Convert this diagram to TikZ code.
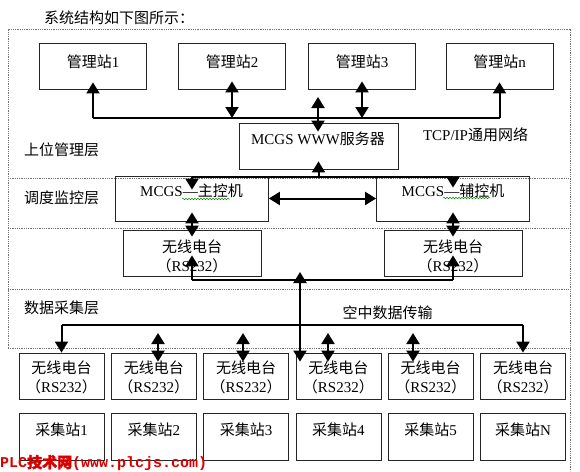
\documentclass[tikz,border=0pt]{standalone}
\usepackage{fontspec}
\setmainfont{Liberation Serif}
\newfontfamily\cjk{Noto Sans CJK SC}
\newfontfamily\cjkwm[FakeBold=2]{Noto Sans CJK SC}
\newfontfamily\wmmono{Liberation Mono}
\usetikzlibrary{arrows.meta,calc,decorations.pathmorphing}
\begin{document}
\begin{tikzpicture}[x=1pt,y=-1pt,
  box/.style={draw=black!85, line width=0.8pt, inner sep=0pt},
  txt/.style={font=\fontsize{15}{19}\selectfont, inner sep=0pt, align=center},
  lay/.style={draw=black!55, line width=0.9pt, dash pattern=on 0.9pt off 0.9pt},
  wire/.style={line width=2pt},
  arr/.style={wire,-{Triangle[length=11pt,width=13pt]}},
  darr/.style={wire,{Triangle[length=11pt,width=13pt]}-{Triangle[length=11pt,width=13pt]}},
  spell/.style={draw=green!55!black, line width=0.5pt, decorate, decoration={snake, amplitude=0.7pt, segment length=3pt}}]
\useasboundingbox (0,0) rectangle (580,471);

% layer frames
\draw[lay] (8,348) -- (8,29) -- (570,29) -- (570,471);
\foreach \yy in {178,228,289,348} \draw[lay] (8,\yy) -- (570,\yy);

\node[txt,anchor=west] (title) at (44,18) {\cjk 系统结构如下图所示：};

% layer labels
\node[txt,anchor=west] (l1) at (24,150) {\cjk 上位管理层};
\node[txt,anchor=west] (l2) at (24,198) {\cjk 调度监控层};
\node[txt,anchor=west] (l3) at (24,308) {\cjk 数据采集层};

% management stations
\foreach \n/\x/\t in {m1/93/1, m2/232/2, m3/362/3, mn/499.5/n}{
  \node[box, minimum width=107, minimum height=46] (\n) at (\x,66) {};
  \node[txt] (\n t) at (\x,62) {{\cjk 管理站}\t};
}

% server
\node[box, minimum width=159, minimum height=46] (srv) at (318.5,146) {};
\node[txt] (srvt) at (318,139) {MCGS WWW{\cjk 服务器}};
\node[txt] (tcp) at (475.5,135) {TCP/IP{\cjk 通用网络}};

% controllers
\node[box, minimum width=153, minimum height=45] (mc) at (192,198.5) {};
\node[txt] (mct) at (191.5,191) {MCGS—{\cjk 主控机}};
\node[box, minimum width=153, minimum height=45] (ac) at (453,198.5) {};
\node[txt] (act) at (453,191) {MCGS—{\cjk 辅控机}};
\draw[spell] (182,199) -- (230,199);
\draw[spell] (443,198) -- (490,198);

% middle radios
\node[box, minimum width=138, minimum height=46] (rl) at (192,253) {};
\node[txt] (rlt) at (192,256) {{\cjk 无线电台}\\{\cjk （}RS232{\cjk ）}};
\node[box, minimum width=138, minimum height=46] (rr) at (453,253) {};
\node[txt] (rrt) at (453,256) {{\cjk 无线电台}\\{\cjk （}RS232{\cjk ）}};

\node[txt] (air) at (387.5,313) {\cjk 空中数据传输};

% bottom radios and stations
\foreach \i/\x/\t in {1/61.5/1, 2/153.8/2, 3/246.1/3, 4/338.4/4, 5/430.7/5, 6/523/N}{
  \node[box, minimum width=85, minimum height=46] (r\i) at (\x,376) {};
  \node[txt] (r\i t) at (\x,377) {{\cjk 无线电台}\\{\cjk （}RS232{\cjk ）}};
  \node[box, minimum width=85, minimum height=47] (c\i) at (\x,436.5) {};
  \node[txt] (c\i t) at (\x,430) {{\cjk 采集站}\t};
}

% top bus
\coordinate (bL) at (93,118);
\coordinate (bR) at (499.5,118);
\draw[wire] (bL) -- (bR);
\draw[arr] (bL) -- ([yshift=7pt]m1.south);
\draw[darr] ([yshift=8pt]m2.south) -- (m2.south |- bL);
\draw[darr] ([yshift=8pt]m3.south) -- (m3.south |- bL);
\draw[arr] (bR) -- ([yshift=7pt]mn.south);
\coordinate (sT) at (318,97);
\draw[darr] (sT) -- (sT |- {$(srv.north)+(0,9)$});

% controller line
\coordinate (cL) at (192,177);
\coordinate (cR) at (453,177);
\draw[wire] (cL) -- (cR);
\draw[arr] (cL) -- ([yshift=-14pt]mc.north);
\draw[arr] (cR) -- ([yshift=-12pt]ac.north);
\draw[arr] (srv.south |- cL) -- ([yshift=8pt]srv.south);
\draw[darr] (mc.east) -- (ac.west);
\draw[darr] ([yshift=9pt]mc.south) -- ([yshift=-7pt]rl.north);
\draw[darr] ([yshift=9pt]ac.south) -- ([yshift=-7pt]rr.north);

% radio link
\coordinate (rL) at (192,280);
\coordinate (rR) at (453,280);
\draw[wire] (rL) -- (rR);
\draw[arr] (rL) -- ([yshift=21pt]rl.south);
\draw[arr] (rR) -- ([yshift=21pt]rr.south);
\coordinate (vT) at (300,272);
\draw[darr] (vT) -- ($(vT |- r4.north)+(0,9)$);

% data line
\coordinate (yD) at (0,325);
\draw[wire] (r1.north |- yD) -- (r6.north |- yD);
\draw[arr] (r1.north |- yD) -- (r1.north);
\draw[arr] (r6.north |- yD) -- (r6.north);
\foreach \k/\x/\r in {1/158/r2, 2/243/r3, 3/328/r4, 4/413/r5}{
  \coordinate (a\k) at (\x,333);
  \draw[darr] (a\k) -- ($(a\k |- \r.north)+(0,9)$);
}

% watermark
\node[anchor=west, text=red!85!black, inner sep=0pt] (wm) at (0,463)
  {\fontsize{15}{15}\selectfont\wmmono\bfseries PLC{\cjkwm 技术网}(www.plcjs.com)};
\end{tikzpicture}
\end{document}
